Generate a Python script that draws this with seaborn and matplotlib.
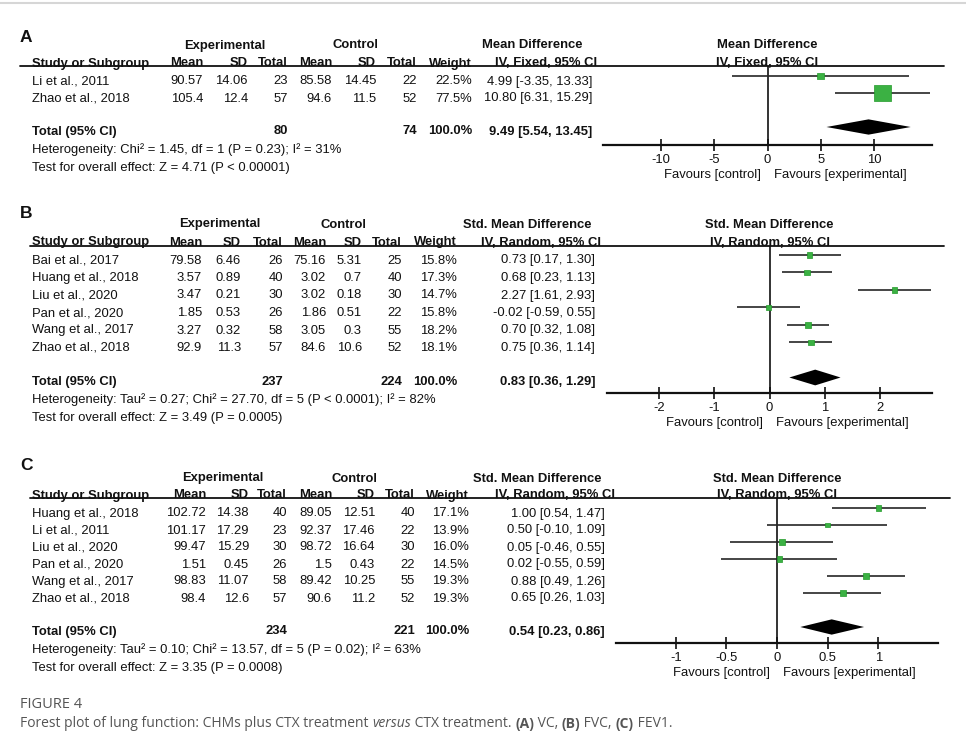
import matplotlib
matplotlib.use("Agg")
import matplotlib.pyplot as plt
import seaborn as sns
import numpy as np

# ---------------- panel A : VC ----------------
studies_a = ["Li et al., 2011", "Zhao et al., 2018"]
exp_mean_a = [90.57, 105.4]
exp_sd_a = [14.06, 12.4]
exp_n_a = [23, 57]
ctl_mean_a = [85.58, 94.6]
ctl_sd_a = [14.45, 11.5]
ctl_n_a = [22, 52]
weight_a = [22.5, 77.5]
md_a = [4.99, 10.80]
lo_a = [-3.35, 6.31]
hi_a = [13.33, 15.29]
total_a = [9.49, 5.54, 13.45]
totn_a = [80, 74]
het_a = "Heterogeneity: Chi² = 1.45, df = 1 (P = 0.23); I² = 31%"
test_a = "Test for overall effect: Z = 4.71 (P < 0.00001)"
ticks_a = [-10, -5, 0, 5, 10]
tlabels_a = ["-10", "-5", "0", "5", "10"]

# ---------------- panel B : FVC ----------------
studies_b = ["Bai et al., 2017", "Huang et al., 2018", "Liu et al., 2020",
             "Pan et al., 2020", "Wang et al., 2017", "Zhao et al., 2018"]
exp_mean_b = [79.58, 3.57, 3.47, 1.85, 3.27, 92.9]
exp_sd_b = [6.46, 0.89, 0.21, 0.53, 0.32, 11.3]
exp_n_b = [26, 40, 30, 26, 58, 57]
ctl_mean_b = [75.16, 3.02, 3.02, 1.86, 3.05, 84.6]
ctl_sd_b = [5.31, 0.7, 0.18, 0.51, 0.3, 10.6]
ctl_n_b = [25, 40, 30, 22, 55, 52]
weight_b = [15.8, 17.3, 14.7, 15.8, 18.2, 18.1]
md_b = [0.73, 0.68, 2.27, -0.02, 0.70, 0.75]
lo_b = [0.17, 0.23, 1.61, -0.59, 0.32, 0.36]
hi_b = [1.30, 1.13, 2.93, 0.55, 1.08, 1.14]
total_b = [0.83, 0.36, 1.29]
totn_b = [237, 224]
het_b = "Heterogeneity: Tau² = 0.27; Chi² = 27.70, df = 5 (P < 0.0001); I² = 82%"
test_b = "Test for overall effect: Z = 3.49 (P = 0.0005)"
ticks_b = [-2, -1, 0, 1, 2]
tlabels_b = ["-2", "-1", "0", "1", "2"]

# ---------------- panel C : FEV1 ----------------
studies_c = ["Huang et al., 2018", "Li et al., 2011", "Liu et al., 2020",
             "Pan et al., 2020", "Wang et al., 2017", "Zhao et al., 2018"]
exp_mean_c = [102.72, 101.17, 99.47, 1.51, 98.83, 98.4]
exp_sd_c = [14.38, 17.29, 15.29, 0.45, 11.07, 12.6]
exp_n_c = [40, 23, 30, 26, 58, 57]
ctl_mean_c = [89.05, 92.37, 98.72, 1.5, 89.42, 90.6]
ctl_sd_c = [12.51, 17.46, 16.64, 0.43, 10.25, 11.2]
ctl_n_c = [40, 22, 30, 22, 55, 52]
weight_c = [17.1, 13.9, 16.0, 14.5, 19.3, 19.3]
md_c = [1.00, 0.50, 0.05, 0.02, 0.88, 0.65]
lo_c = [0.54, -0.10, -0.46, -0.55, 0.49, 0.26]
hi_c = [1.47, 1.09, 0.55, 0.59, 1.26, 1.03]
total_c = [0.54, 0.23, 0.86]
totn_c = [234, 221]
het_c = "Heterogeneity: Tau² = 0.10; Chi² = 13.57, df = 5 (P = 0.02); I² = 63%"
test_c = "Test for overall effect: Z = 3.35 (P = 0.0008)"
ticks_c = [-1, -0.5, 0, 0.5, 1]
tlabels_c = ["-1", "-0.5", "0", "0.5", "1"]

caption_pieces = [
    ("Forest plot of lung function: CHMs plus CTX treatment ", "normal", "normal"),
    ("versus", "italic", "normal"),
    (" CTX treatment. ", "normal", "normal"),
    ("(A)", "normal", "bold"),
    (" VC, ", "normal", "normal"),
    ("(B)", "normal", "bold"),
    (" FVC, ", "normal", "normal"),
    ("(C)", "normal", "bold"),
    (" FEV1.", "normal", "normal"),
]

# layout in pixels (figure is 966 x 745)
W, H = 966, 745
LAYOUT = {
    "A": dict(letter_y=37, head1=44, head2=62, line_y=66, line_x=(20, 944),
              cols=[203, 248, 288, 332, 376, 417, 472, 592], ci_head_r=597,
              exp_c=225, ctl_c=355, md_c=532, fx=(603, 932), fy=(66, 145),
              lim=15.45, row0=76, sp=17),
    "B": dict(letter_y=214, head1=223, head2=241, line_y=246, line_x=(30, 944),
              cols=[202, 241, 283, 326, 362, 402, 457, 595], ci_head_r=601,
              exp_c=220, ctl_c=343, md_c=527, fx=(607, 932), fy=(246, 393),
              lim=2.95, row0=255, sp=17.5),
    "C": dict(letter_y=466, head1=477, head2=494, line_y=498, line_x=(30, 950),
              cols=[206, 249, 287, 332, 375, 415, 469, 605], ci_head_r=615,
              exp_c=223, ctl_c=354, md_c=537, fx=(616, 938), fy=(498, 643),
              lim=1.59, row0=508, sp=17),
}

panels = [
    ("A", "Mean Difference", "IV, Fixed, 95% CI", studies_a, exp_mean_a, exp_sd_a, exp_n_a,
     ctl_mean_a, ctl_sd_a, ctl_n_a, weight_a, md_a, lo_a, hi_a, total_a, totn_a,
     het_a, test_a, ticks_a, tlabels_a),
    ("B", "Std. Mean Difference", "IV, Random, 95% CI", studies_b, exp_mean_b, exp_sd_b, exp_n_b,
     ctl_mean_b, ctl_sd_b, ctl_n_b, weight_b, md_b, lo_b, hi_b, total_b, totn_b,
     het_b, test_b, ticks_b, tlabels_b),
    ("C", "Std. Mean Difference", "IV, Random, 95% CI", studies_c, exp_mean_c, exp_sd_c, exp_n_c,
     ctl_mean_c, ctl_sd_c, ctl_n_c, weight_c, md_c, lo_c, hi_c, total_c, totn_c,
     het_c, test_c, ticks_c, tlabels_c),
]

sns.set_theme(style="white")
plt.rcParams["font.family"] = ["Liberation Sans", "DejaVu Sans"]
FS = 9.4
BASE = 4.5  # centre -> baseline offset in px
INK = "#111111"
GREEN = "#3bb143"

fig = plt.figure(figsize=(W / 100, H / 100), dpi=100)
bg = fig.add_axes([0, 0, 1, 1])
bg.set_xlim(0, W)
bg.set_ylim(H, 0)
bg.axis("off")

bg.plot([0, W], [3, 3], color="#d6d6d6", lw=1.5)


def ci_text(m, l, h):
    return f"{m:.2f} [{l:.2f}, {h:.2f}]"


def put(x, y, s, ha="left", bold=False, size=FS):
    bg.text(x, y + BASE, s, ha=ha, va="baseline", fontsize=size, color=INK,
            fontweight="bold" if bold else "normal")


for (letter, md_name, md_method, studies, em, esd, en, cm, csd, cn, wt,
     md, lo, hi, tot, totn, het, test, ticks, tlabels) in panels:
    L = LAYOUT[letter]
    cols = L["cols"]
    bg.text(20, L["letter_y"], letter, fontsize=12.5, fontweight="bold", color=INK, va="center")

    # table headers
    put(L["exp_c"], L["head1"], "Experimental", ha="center", bold=True)
    put(L["ctl_c"], L["head1"], "Control", ha="center", bold=True)
    put(L["md_c"], L["head1"], md_name, ha="center", bold=True)
    put(32, L["head2"], "Study or Subgroup", bold=True)
    for x, lab in zip(cols[:7], ["Mean", "SD", "Total", "Mean", "SD", "Total", "Weight"]):
        put(x, L["head2"], lab, ha="right", bold=True)
    put(L["ci_head_r"], L["head2"], md_method, ha="right", bold=True)
    bg.plot(L["line_x"], [L["line_y"]] * 2, color=INK, lw=1.3)

    # study rows
    n = len(studies)
    for k in range(n):
        y = L["row0"] + k * L["sp"] + 4
        put(32, y, studies[k])
        vals = [f"{em[k]:g}", f"{esd[k]:g}", str(en[k]), f"{cm[k]:g}", f"{csd[k]:g}",
                str(cn[k]), f"{wt[k]:.1f}%", ci_text(md[k], lo[k], hi[k])]
        for x, v in zip(cols, vals):
            put(x, y, v, ha="right")

    yt = L["row0"] + (n + 1) * L["sp"] + 3
    put(32, yt, "Total (95% CI)", bold=True)
    put(cols[2], yt, str(totn[0]), ha="right", bold=True)
    put(cols[5], yt, str(totn[1]), ha="right", bold=True)
    put(cols[6], yt, "100.0%", ha="right", bold=True)
    put(cols[7], yt, ci_text(*tot), ha="right", bold=True)
    put(32, yt + 18, het)
    put(32, yt + 36, test)

    # forest plot
    x0, x1 = L["fx"]
    y0, y1 = L["fy"]
    xc = (x0 + x1) / 2
    put(xc, L["head1"], md_name, ha="center", bold=True)
    put(xc, L["head2"], md_method, ha="center", bold=True)

    ax = fig.add_axes([x0 / W, 1 - y1 / H, (x1 - x0) / W, (y1 - y0) / H])
    ax.patch.set_alpha(0)
    rows = np.arange(n)
    ax.hlines(rows, lo, hi, color="#262626", lw=1.2, zorder=2)
    # square side grows with study weight
    sizes = ((2.5 + 0.175 * np.array(wt)) * 0.72) ** 2
    sns.scatterplot(x=md, y=rows, s=sizes, marker="s", color=GREEN,
                    edgecolor="#229a2a", linewidth=0.5, legend=False, ax=ax, zorder=3)
    h = 0.45
    ax.fill([tot[1], tot[0], tot[2], tot[0]], [n + 1, n + 1 - h, n + 1, n + 1 + h],
            color="black", lw=0, zorder=3)
    ax.axvline(0, color=INK, lw=1.2, zorder=1)
    ax.set_xlim(-L["lim"], L["lim"])
    ax.set_ylim((y1 - L["row0"]) / L["sp"], (y0 - L["row0"]) / L["sp"])
    for s in ["top", "left", "right"]:
        ax.spines[s].set_visible(False)
    ax.spines["bottom"].set_linewidth(1.6)
    ax.spines["bottom"].set_color(INK)
    ax.set_yticks([])
    ax.set_xticks(ticks, tlabels)
    ax.tick_params(axis="x", direction="inout", length=8, width=1.2, pad=2.5,
                   labelsize=FS, colors=INK, bottom=True)
    ax.set_xlabel("")
    ax.set_ylabel("")
    ax.annotate("Favours [control]", xy=(0, 0), xycoords=("data", "axes fraction"),
                xytext=(-7, -30), textcoords="offset pixels", ha="right", va="center",
                fontsize=FS, color=INK, annotation_clip=False)
    ax.annotate("Favours [experimental]", xy=(0, 0), xycoords=("data", "axes fraction"),
                xytext=(6, -30), textcoords="offset pixels", ha="left", va="center",
                fontsize=FS, color=INK, annotation_clip=False)

# caption
CAP = "#555555"
bg.text(20, 712, "FIGURE 4", fontsize=10.5, color=CAP, va="bottom",
        family=["Open Sans", "DejaVu Sans"])
prev = bg.text(20, 731, caption_pieces[0][0], fontsize=10, color=CAP, va="bottom",
               family=["Open Sans", "DejaVu Sans"])
for txt, style, weight in caption_pieces[1:]:
    prev = bg.annotate(txt, xy=(1, 0), xycoords=prev, va="bottom", ha="left",
                       fontsize=10, color=CAP, fontstyle=style, fontweight=weight,
                       family=["Open Sans", "DejaVu Sans"])

fig.savefig("out.png", dpi=100)
